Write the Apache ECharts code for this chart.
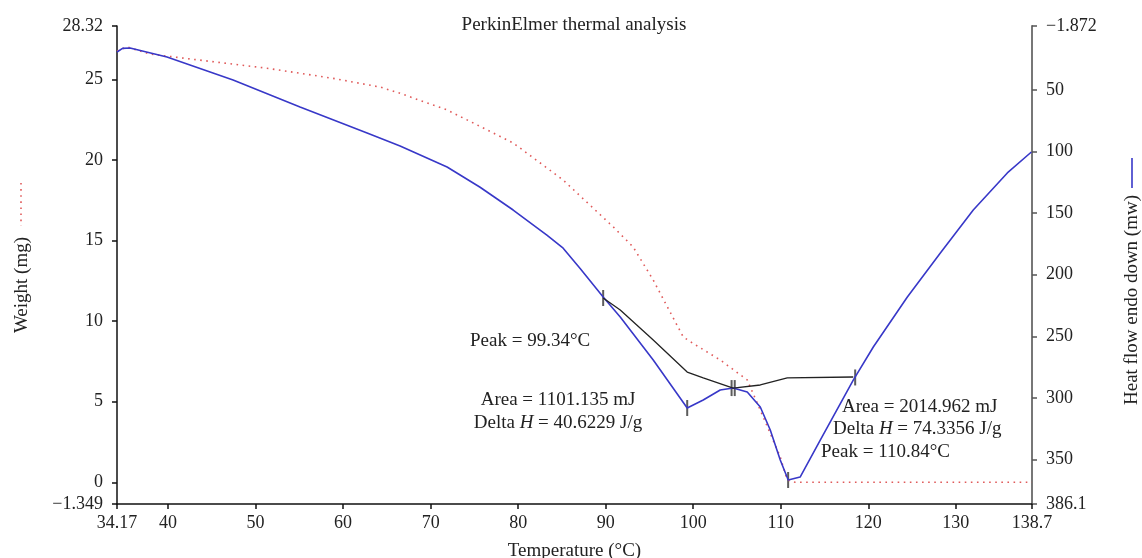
<!DOCTYPE html>
<html><head><meta charset="utf-8">
<script src="https://cdn.jsdelivr.net/npm/echarts@6/dist/echarts.min.js"></script>
<style>html,body{margin:0;padding:0;background:#fff}#c{width:1142px;height:558px}</style>
</head><body><div id="c"></div>
<script>
// Tick labels
const xTicks = [34.17, 40, 50, 60, 70, 80, 90, 100, 110, 120, 130, 138.7];
const weightTicks = [-1.349, 0, 5, 10, 15, 20, 25, 28.32];
const heatTicks = [-1.872, 50, 100, 150, 200, 250, 300, 350, 386.1];

// Weight (mg), left axis, red dotted
const weightT  = [34.17, 35.31, 37.94, 43.66, 51.31, 58.86, 64.23, 66.51, 71.88, 79.43, 85.14, 90.86, 93.14, 95.43, 98.86, 99.89, 103.08, 106.17, 108.0, 109.94, 110.74, 111.66, 138.7];
const weightMg = [26.77, 27.02, 26.58, 26.20, 25.70, 25.07, 24.53, 24.14, 23.11, 21.06, 18.76, 15.85, 14.60, 12.55, 9.02, 8.65, 7.59, 6.35, 4.05, 1.57, 0.14, 0.0, 0.0];

// Heat flow (mw), right axis (inverted), blue
const heatT  = [34.17, 34.8, 35.66, 39.88, 47.43, 55.08, 62.74, 66.51, 71.88, 75.65, 79.43, 83.28, 85.14, 87.08, 89.71, 91.66, 95.43, 99.31, 101.14, 103.08, 104.56, 106.17, 107.66, 108.80, 109.94, 110.85, 112.21, 114.51, 118.28, 120.57, 124.46, 128.23, 131.99, 135.88, 138.63];
const heatMw = [19.2, 16.3, 16.0, 23.3, 42.0, 63.9, 85.0, 95.5, 112.6, 129.0, 147.5, 167.8, 178.5, 195.0, 218.1, 234.3, 269.2, 308.2, 301.7, 293.6, 292.0, 295.2, 307.4, 326.0, 350.4, 366.6, 364.2, 334.2, 285.5, 258.7, 218.1, 182.4, 147.5, 117.4, 100.4];

// Integration baseline (mw), black
const baseT  = [89.71, 91.66, 95.43, 99.31, 101.14, 104.56, 107.66, 110.74, 118.28];
const baseMw = [218.9, 228.6, 253.0, 279.0, 283.8, 292.0, 289.5, 283.8, 283.0];

// Tick marks on curves
const markT  = [89.71, 99.31, 104.38, 104.74, 110.84, 118.5];
const markMw = [218.9, 308.2, 292.0, 292.0, 366.6, 283.4];

const FONT = 'Liberation Serif';
const zip = (a, b) => a.map((v, i) => [v, b[i]]);
const fmt = v => String(v).replace('-', '\u2212');
const TXT = '#222';
const AF = '19px "Liberation Serif"';

const chart = echarts.init(document.getElementById('c'));
chart.setOption({
  animation: false,
  backgroundColor: '#fff',
  title: {
    text: 'PerkinElmer thermal analysis',
    left: 569, textAlign: 'center', top: 11,
    textStyle: { fontFamily: FONT, fontSize: 19, fontWeight: 'normal', color: TXT }
  },
  grid: { left: 117, right: 110, top: 26, bottom: 54, containLabel: false, outerBoundsMode: 'none' },
  xAxis: {
    type: 'value', min: 34.17, max: 138.7,
    name: 'Temperature (\u00B0C)', nameLocation: 'middle', nameGap: 38,
    nameTextStyle: { fontFamily: FONT, fontSize: 19, color: TXT },
    axisLine: { onZero: false, lineStyle: { color: '#111', width: 1.5 } },
    axisTick: { customValues: xTicks, length: 5, lineStyle: { color: '#111', width: 1.5 } },
    axisLabel: { customValues: xTicks, formatter: fmt, margin: 10, fontFamily: FONT, fontSize: 18, color: TXT },
    splitLine: { show: false }
  },
  yAxis: [{
    type: 'value', min: -1.349, max: 28.32, position: 'left',
    axisLine: { show: true, onZero: false, lineStyle: { color: '#111', width: 1.5 } },
    axisTick: { show: true, customValues: weightTicks, length: 5, lineStyle: { color: '#111', width: 1.5 } },
    axisLabel: { customValues: weightTicks, formatter: fmt, margin: 14, fontFamily: FONT, fontSize: 18, color: TXT },
    splitLine: { show: false }
  }, {
    type: 'value', min: -1.872, max: 386.1, inverse: true, position: 'right',
    axisLine: { show: true, onZero: false, lineStyle: { color: '#777', width: 2 } },
    axisTick: { show: true, customValues: heatTicks, length: 5, lineStyle: { color: '#555', width: 1.5 } },
    axisLabel: { customValues: heatTicks, formatter: fmt, margin: 14, fontFamily: FONT, fontSize: 18, color: TXT },
    splitLine: { show: false }
  }],
  series: [{
    name: 'Weight (mg)', type: 'line', yAxisIndex: 0, showSymbol: false,
    data: zip(weightT, weightMg),
    lineStyle: { color: '#e05a5a', width: 1.6, type: [1.6, 4.5] }
  }, {
    name: 'Heat flow endo down (mw)', type: 'line', yAxisIndex: 1, showSymbol: false,
    data: zip(heatT, heatMw),
    lineStyle: { color: '#3838c8', width: 1.6 }
  }, {
    name: 'Baseline', type: 'line', yAxisIndex: 1, showSymbol: false,
    data: zip(baseT, baseMw),
    lineStyle: { color: '#222', width: 1.3 }
  }, {
    name: 'Marks', type: 'scatter', yAxisIndex: 1,
    symbol: 'rect', symbolSize: [2, 16],
    data: zip(markT, markMw),
    itemStyle: { color: '#333' }
  }],
  graphic: [
    { type: 'text', x: 22, y: 285, rotation: Math.PI / 2,
      style: { text: 'Weight (mg)', font: AF, fill: TXT, align: 'center', verticalAlign: 'middle' } },
    { type: 'line', shape: { x1: 21, y1: 183, x2: 21, y2: 226 },
      style: { stroke: '#e05a5a', lineWidth: 1.6, lineDash: [1.6, 4.5] } },
    { type: 'text', x: 1132, y: 300, rotation: Math.PI / 2,
      style: { text: 'Heat flow endo down (mw)', font: AF, fill: TXT, align: 'center', verticalAlign: 'middle' } },
    { type: 'line', shape: { x1: 1132, y1: 158, x2: 1132, y2: 188 },
      style: { stroke: '#3838c8', lineWidth: 1.6 } },
    { type: 'text', x: 470, y: 341,
      style: { text: 'Peak = 99.34\u00B0C', font: AF, fill: TXT, align: 'left', verticalAlign: 'middle' } },
    { type: 'text', x: 558, y: 400,
      style: { text: 'Area = 1101.135 mJ', font: AF, fill: TXT, align: 'center', verticalAlign: 'middle' } },
    { type: 'text', x: 558, y: 423,
      style: { text: 'Delta {i|H} = 40.6229 J/g', font: AF, fill: TXT, align: 'center', verticalAlign: 'middle',
        rich: { i: { fontStyle: 'italic', fontFamily: FONT, fontSize: 19, fill: TXT } } } },
    { type: 'text', x: 842, y: 407,
      style: { text: 'Area = 2014.962 mJ', font: AF, fill: TXT, align: 'left', verticalAlign: 'middle' } },
    { type: 'text', x: 833, y: 429,
      style: { text: 'Delta {i|H} = 74.3356 J/g', font: AF, fill: TXT, align: 'left', verticalAlign: 'middle',
        rich: { i: { fontStyle: 'italic', fontFamily: FONT, fontSize: 19, fill: TXT } } } },
    { type: 'text', x: 821, y: 452,
      style: { text: 'Peak = 110.84\u00B0C', font: AF, fill: TXT, align: 'left', verticalAlign: 'middle' } }
  ]
});
</script>
</body></html>
